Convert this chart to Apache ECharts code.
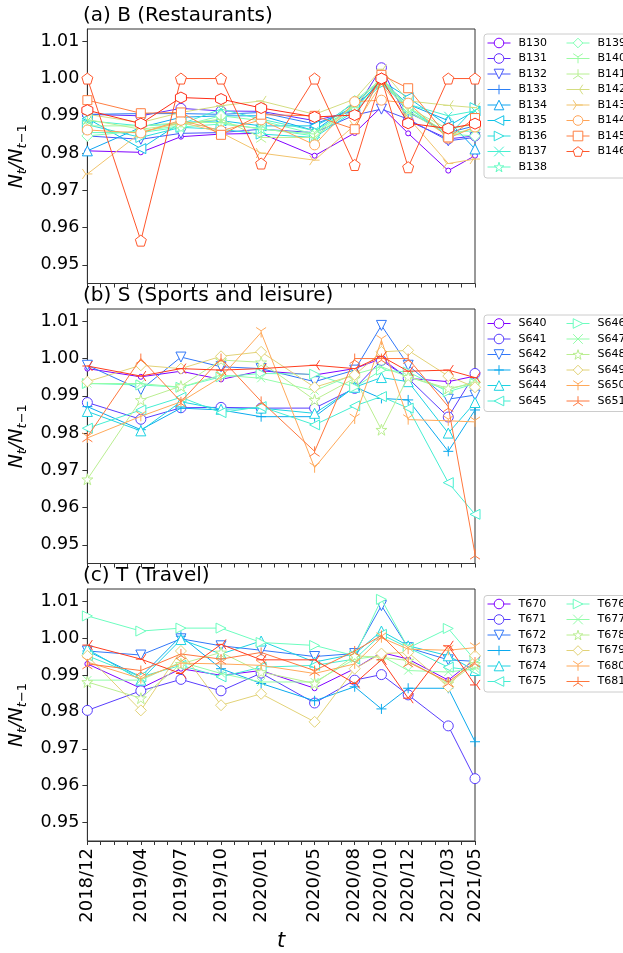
<!DOCTYPE html>
<html>
<head>
<meta charset="utf-8">
<script src="https://cdn.jsdelivr.net/npm/echarts@6/dist/echarts.min.js"></script>
<style>html,body{margin:0;padding:0;background:#fff}#c{width:623px;height:953px}</style>
</head>
<body>
<div id="c"></div>
<script>
// ---- axis values ----
const MONTHS = [0, 4, 7, 10, 13, 17, 20, 22, 24, 27, 29];
const TICK_LABELS = ['2018/12','2019/04','2019/07','2019/10','2020/01','2020/05','2020/08','2020/10','2020/12','2021/03','2021/05'];
const Y_TICKS = [0.95, 0.96, 0.97, 0.98, 0.99, 1.00, 1.01];
const MONTH_TICKS = [0,1,2,3,4,5,6,7,8,9,10,11,12,13,14,15,16,17,18,19,20,21,22,23,24,25,26,27,28,29];

// ---- (a) B (Restaurants) ----
const B130 = [0.9806,0.9802,0.9844,0.9851,0.9853,0.9793,0.9854,0.9924,0.9853,0.9753,0.9793];
const B131 = [0.9904,0.9900,0.9920,0.9913,0.9912,0.9887,0.9913,1.0029,0.9887,0.9838,0.9846];
const B132 = [0.9846,0.9837,0.9853,0.9855,0.9864,0.9855,0.9902,0.9918,0.9891,0.9833,0.9842];
const B133 = [0.9904,0.9906,0.9906,0.9904,0.9909,0.9878,0.9918,0.9998,0.9909,0.9855,0.9873];
const B134 = [0.9806,0.9869,0.9896,0.9900,0.9900,0.9860,0.9936,0.9994,0.9931,0.9887,0.9811];
const B135 = [0.9893,0.9812,0.9882,0.9887,0.9873,0.9873,0.9924,0.9994,0.9949,0.9873,0.9913];
const B136 = [0.9876,0.9842,0.9869,0.9864,0.9851,0.9842,0.9913,0.9985,0.9922,0.9846,0.9922];
const B137 = [0.9887,0.9873,0.9878,0.9918,0.9891,0.9860,0.9922,0.9989,0.9931,0.9900,0.9913];
const B138 = [0.9855,0.9855,0.9870,0.9878,0.9866,0.9846,0.9918,0.9994,0.9913,0.9855,0.9860];
const B139 = [0.9846,0.9860,0.9873,0.9900,0.9887,0.9851,0.9940,0.9998,0.9922,0.9851,0.9846];
const B140 = [0.9873,0.9873,0.9882,0.9882,0.9864,0.9851,0.9927,1.0003,0.9922,0.9864,0.9878];
const B141 = [0.9890,0.9864,0.9878,0.9891,0.9842,0.9842,0.9931,0.9998,0.9913,0.9846,0.9869];
const B142 = [0.9904,0.9882,0.9909,0.9927,0.9940,0.9904,0.9945,1.0025,0.9940,0.9928,0.9922];
const B143 = [0.9744,0.9855,0.9883,0.9855,0.9800,0.9781,0.9875,0.9985,0.9895,0.9772,0.9784];
const B144 = [0.9862,0.9854,0.9888,0.9860,0.9889,0.9822,0.9938,0.9942,0.9934,0.9840,0.9870];
const B145 = [0.9942,0.9907,0.9909,0.9849,0.9903,0.9900,0.9864,1.0010,0.9974,0.9842,0.9894];
const B146 = [1.0000,0.9565,1.0000,1.0000,0.9772,1.0000,0.9768,1.0000,0.9762,1.0000,1.0000];
const B147 = [0.9915,0.9879,0.9949,0.9945,0.9921,0.9897,0.9902,1.0000,0.9880,0.9866,0.9879];

// ---- (b) S (Sports and leisure) ----
const S640 = [0.9973,0.9951,0.9966,0.9944,0.9967,0.9956,0.9973,1.0000,0.9947,0.9938,0.9953];
const S641 = [0.9882,0.9837,0.9868,0.9869,0.9867,0.9867,0.9920,0.9995,0.9947,0.9843,0.9960];
const S642 = [0.9982,0.9916,1.0004,0.9978,0.9973,0.9938,0.9969,1.0089,0.9982,0.9891,0.9902];
const S643 = [0.9871,0.9809,0.9867,0.9862,0.9844,0.9844,0.9924,0.9893,0.9889,0.9751,0.9862];
const S644 = [0.9858,0.9806,0.9884,0.9864,0.9867,0.9853,0.9923,0.9949,0.9938,0.9800,0.9882];
const S645 = [0.9813,0.9862,0.9896,0.9855,0.9871,0.9822,0.9873,0.9898,0.9867,0.9667,0.9582];
const S646 = [0.9933,0.9929,0.9923,0.9951,0.9960,0.9958,0.9923,0.9969,0.9964,0.9911,0.9933];
const S647 = [0.9933,0.9933,0.9923,0.9956,0.9947,0.9914,0.9958,0.9978,0.9951,0.9916,0.9938];
const S648 = [0.9676,0.9889,0.9926,0.9996,0.9990,0.9889,0.9947,0.9809,0.9951,0.9920,0.9933];
const S649 = [0.9938,0.9982,0.9973,1.0006,1.0018,0.9923,0.9956,1.0018,1.0022,0.9953,0.9923];
const S650 = [0.9787,0.9845,0.9884,0.9950,1.0070,0.9707,0.9838,1.0049,0.9836,0.9833,0.9830];
const S651 = [0.9790,1.0000,0.9884,1.0000,0.9885,0.9751,1.0000,1.0000,1.0000,0.9871,0.9475];
const S652 = [0.9980,0.9953,0.9973,0.9969,0.9973,0.9982,0.9973,1.0006,0.9966,0.9969,0.9949];

// ---- (c) T (Travel) ----
const T670 = [0.9930,0.9864,0.9917,0.9899,0.9912,0.9864,0.9917,0.9961,0.9943,0.9886,0.9943];
const T671 = [0.9804,0.9857,0.9888,0.9857,0.9905,0.9824,0.9886,0.9901,0.9846,0.9762,0.9619];
const T672 = [0.9965,0.9954,0.9998,0.9979,0.9967,0.9950,0.9958,1.0088,0.9974,0.9941,0.9937];
const T673 = [0.9965,0.9895,1.0005,0.9917,0.9877,0.9830,0.9868,0.9808,0.9864,0.9864,0.9719];
const T674 = [0.9970,0.9886,0.9996,0.9957,0.9992,0.9935,0.9957,1.0019,0.9979,0.9952,0.9912];
const T675 = [0.9952,0.9895,0.9926,0.9895,0.9921,0.9926,0.9943,1.0010,0.9974,0.9921,0.9912];
const T676 = [1.0060,1.0019,1.0027,1.0027,0.9988,0.9980,0.9952,1.0105,0.9973,1.0026,0.9940];
const T677 = [0.9886,0.9886,0.9935,0.9904,0.9881,0.9881,0.9943,0.9952,0.9912,0.9908,0.9917];
const T678 = [0.9881,0.9837,0.9930,0.9961,0.9908,0.9877,0.9952,0.9948,0.9939,0.9877,0.9930];
const T679 = [0.9952,0.9804,0.9965,0.9818,0.9849,0.9773,0.9917,0.9958,0.9961,0.9868,0.9952];
const T680 = [0.9935,0.9890,0.9932,0.9930,0.9926,0.9904,0.9930,1.0001,0.9970,0.9967,0.9974];
const T681 = [0.9930,0.9912,0.9957,0.9943,0.9961,0.9912,0.9965,1.0007,0.9935,0.9881,0.9935];
const T682 = [0.9981,0.9943,0.9904,0.9983,0.9941,0.9941,0.9877,0.9941,0.9837,0.9979,0.9873];

const PANEL_A = [['B130',B130],['B131',B131],['B132',B132],['B133',B133],['B134',B134],['B135',B135],['B136',B136],['B137',B137],['B138',B138],['B139',B139],['B140',B140],['B141',B141],['B142',B142],['B143',B143],['B144',B144],['B145',B145],['B146',B146],['B147',B147]];
const PANEL_B = [['S640',S640],['S641',S641],['S642',S642],['S643',S643],['S644',S644],['S645',S645],['S646',S646],['S647',S647],['S648',S648],['S649',S649],['S650',S650],['S651',S651],['S652',S652]];
const PANEL_C = [['T670',T670],['T671',T671],['T672',T672],['T673',T673],['T674',T674],['T675',T675],['T676',T676],['T677',T677],['T678',T678],['T679',T679],['T680',T680],['T681',T681],['T682',T682]];
const TITLES = ['(a) B (Restaurants)', '(b) S (Sports and leisure)', '(c) T (Travel)'];
const LEGEND_COUNTS = [17, 12, 12];

// ---- styles ----
const MARKERS = ['.','o','v','+','^','<','>','x','*','D','1','2','3','4','o','s','p','h'];
const STAR = 'path://M5,0L6.123,3.455L9.755,3.455L6.816,5.59L7.939,9.045L5,6.91L2.061,9.045L3.184,5.59L0.245,3.455L3.877,3.455Z';
const PENT = 'path://M5,0L9.755,3.455L7.939,9.045L2.061,9.045L0.245,3.455Z';
const HEX = 'path://M5,0L9.33,2.5L9.33,7.5L5,10L0.67,7.5L0.67,2.5Z';
const SYM = {
  '.': ['circle', 5],
  'o': ['circle', 10],
  'v': ['path://M0,0L10,0L5,10Z', 10],
  '^': ['path://M5,0L10,10L0,10Z', 10],
  '<': ['path://M0,5L10,0L10,10Z', 10],
  '>': ['path://M10,5L0,0L0,10Z', 10],
  '+': ['path://M5,0L5,10M0,5L10,5', 10],
  'x': ['path://M0,0L10,10M10,0L0,10', 8],
  '*': [STAR, 11],
  'D': ['diamond', 11],
  '1': ['path://M5,5L5,10M5,5L0.67,2.5M5,5L9.33,2.5', 10],
  '2': ['path://M5,5L5,0M5,5L0.67,7.5M5,5L9.33,7.5', 10],
  '3': ['path://M5,5L0,5M5,5L7.5,0.67M5,5L7.5,9.33', 10],
  '4': ['path://M5,5L10,5M5,5L2.5,0.67M5,5L2.5,9.33', 10],
  's': ['rect', 9],
  'p': [PENT, 11],
  'h': [HEX, 11]
};
function rainbow(t) {
  const r = Math.min(1, Math.abs(2 * t - 0.5));
  const g = Math.sin(Math.PI * t);
  const b = Math.max(0, Math.cos(Math.PI * t / 2));
  return 'rgb(' + Math.round(r * 255) + ',' + Math.round(g * 255) + ',' + Math.round(b * 255) + ')';
}

const FONT = 'DejaVu Sans';
const GRIDS = [
  { left: 83, top: 29, width: 392, height: 254.5 },
  { left: 83, top: 309, width: 392, height: 254.5 },
  { left: 83, top: 589, width: 392, height: 255 }
];
const LEG_TOP = [37, 317.5, 598];
const FRAMES = [[33.5, 144], [314.5, 96.5], [595, 96.5]];

const panels = [PANEL_A, PANEL_B, PANEL_C];
const option = {
  animation: false,
  textStyle: { fontFamily: FONT },
  grid: GRIDS.map(g => Object.assign({ show: true, borderColor: '#333', borderWidth: 1, containLabel: false }, g)),
  title: TITLES.map((t, k) => ({
    text: t, left: 83, top: 6 + 280 * k, padding: 0,
    textStyle: { fontFamily: FONT, fontSize: 20, fontWeight: 'normal', color: '#000', lineHeight: 20 }
  })),
  xAxis: [0, 1, 2].map(k => ({
    gridIndex: k, type: 'value', min: 0, max: 29,
    splitLine: { show: false },
    axisLine: { show: true, onZero: false, lineStyle: { color: '#333', width: 1 } },
    axisTick: { show: true, customValues: MONTH_TICKS, length: 4, lineStyle: { color: '#333' } },
    axisLabel: {
      show: k === 2, customValues: MONTHS, rotate: 90, margin: 7,
      fontSize: 18, color: '#000', fontFamily: FONT,
      formatter: v => TICK_LABELS[MONTHS.indexOf(v)] || ''
    },
    name: k === 2 ? 't' : '',
    nameLocation: 'middle', nameGap: 90,
    nameTextStyle: { fontFamily: FONT, fontSize: 21, fontStyle: 'italic', color: '#000' }
  })),
  yAxis: [0, 1, 2].map(k => ({
    gridIndex: k, type: 'value', min: 0.945, max: 1.0133,
    splitLine: { show: false },
    axisLine: { show: true, lineStyle: { color: '#333', width: 1 } },
    axisTick: { show: true, customValues: Y_TICKS, length: 5, lineStyle: { color: '#333' } },
    axisLabel: {
      customValues: Y_TICKS, margin: 8, fontSize: 17.5, color: '#000', fontFamily: FONT,
      formatter: v => v.toFixed(2)
    },
    name: '{i|N}{s|t}{i|/N}{s|t}{u|\u22121}',
    nameLocation: 'middle', nameRotate: 90, nameGap: 50,
    nameTextStyle: {
      color: '#000',
      rich: {
        i: { fontFamily: FONT, fontSize: 19, fontStyle: 'italic', lineHeight: 24, color: '#000' },
        s: { fontFamily: FONT, fontSize: 13, fontStyle: 'italic', lineHeight: 10, verticalAlign: 'bottom', color: '#000' },
        u: { fontFamily: FONT, fontSize: 13, lineHeight: 10, verticalAlign: 'bottom', color: '#000' }
      }
    }
  })),
  legend: [],
  graphic: FRAMES.map(f => ({
    type: 'rect', left: 483.5, top: f[0], z: 1,
    shape: { width: 160, height: f[1], r: 3 },
    style: { fill: '#fff', stroke: '#cccccc', lineWidth: 1 }
  })),
  series: []
};

panels.forEach((list, k) => {
  const n = list.length;
  list.forEach((item, i) => {
    const name = item[0], vals = item[1];
    const c = rainbow(i / n);
    const sym = SYM[MARKERS[i]];
    option.series.push({
      type: 'line', name: name, xAxisIndex: k, yAxisIndex: k,
      data: MONTHS.map((m, j) => [m, vals[j]]),
      symbol: sym[0], symbolSize: sym[1], showAllSymbol: true,
      lineStyle: { color: c, width: 1 },
      itemStyle: { color: '#fff', borderColor: c, borderWidth: 1 },
      emphasis: { disabled: true },
      z: 2 + i
    });
  });
  const names = list.slice(0, LEGEND_COUNTS[k]).map(d => d[0]);
  const half = Math.ceil(names.length / 2);
  [names.slice(0, half), names.slice(half)].forEach((col, ci) => {
    option.legend.push({
      data: col, orient: 'vertical', left: ci === 0 ? 487 : 566, top: LEG_TOP[k],
      padding: 0, itemWidth: 23, itemHeight: 12, itemGap: 3.5,
      selectedMode: false, z: 5,
      itemStyle: { borderWidth: 1 },
      lineStyle: { width: 1 },
      textStyle: { fontFamily: FONT, fontSize: 11, color: '#000', lineHeight: 12, padding: [0, 0, 0, 3] }
    });
  });
});

const chart = echarts.init(document.getElementById('c'), null, { renderer: 'canvas' });
chart.setOption(option);
</script>
</body>
</html>
